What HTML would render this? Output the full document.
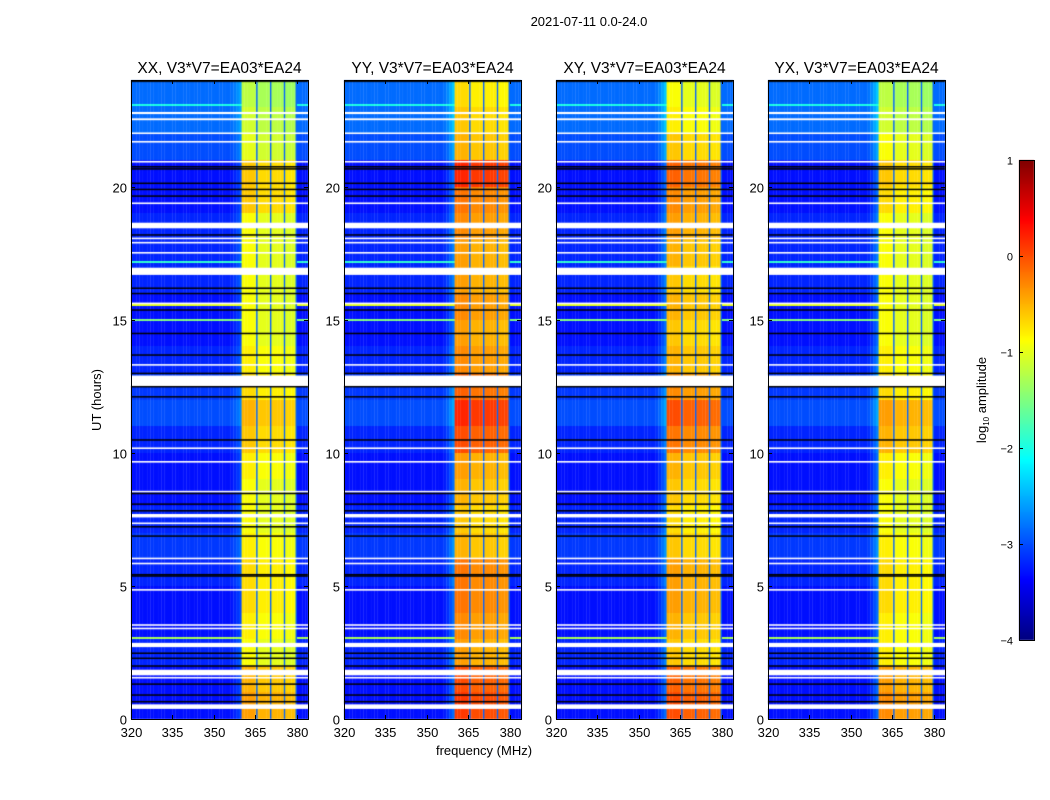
<!DOCTYPE html>
<html><head><meta charset="utf-8">
<style>
html,body{margin:0;padding:0;background:#fff;}
body{width:1050px;height:800px;position:relative;overflow:hidden;font-family:"Liberation Sans","DejaVu Sans",sans-serif;}
canvas{position:absolute;left:0;top:0;}
svg{position:absolute;left:0;top:0;}
</style></head>
<body>
<canvas id="heat" width="1050" height="800"></canvas>
<svg id="ov" width="1050" height="800"></svg>
<script>
// ---- data ----
const panelTitles = ["XX, V3*V7=EA03*EA24","YY, V3*V7=EA03*EA24","XY, V3*V7=EA03*EA24","YX, V3*V7=EA03*EA24"];
const xTicks = [320,335,350,365,380];
const yTicks = [0,5,10,15,20];
const cbTicks = [1,0,-1,-2,-3,-4];
// band log amplitude per hour (0..23) for each panel
const bandXX = [-0.5,-0.6,-1.0,-0.9,-0.8,-0.8,-0.9,-1.0,-1.0,-0.9,-0.7,-0.6,-0.8,-0.9,-1.0,-1.0,-1.0,-1.0,-1.0,-0.7,-0.7,-1.1,-1.2,-1.3];
const bandYY = [0.0,-0.1,-0.5,-0.4,-0.3,-0.3,-0.6,-0.7,-0.6,-0.5,-0.1,0.1,-0.2,-0.4,-0.5,-0.4,-0.5,-0.5,-0.4,-0.3,0.1,-0.6,-0.7,-0.8];
const bandXY = [-0.1,-0.2,-0.7,-0.6,-0.5,-0.5,-0.7,-0.8,-0.7,-0.6,-0.3,-0.1,-0.4,-0.6,-0.7,-0.6,-0.7,-0.6,-0.5,-0.4,-0.2,-0.7,-0.9,-1.0];
const bandYX = [-0.4,-0.5,-0.9,-0.9,-0.8,-0.8,-0.9,-1.0,-1.0,-0.9,-0.6,-0.5,-0.8,-0.9,-1.0,-1.0,-1.0,-1.0,-1.0,-0.8,-0.7,-1.0,-1.2,-1.3];
// background log amplitude per hour
const bgLevel = [-3.3,-3.3,-3.2,-3.3,-3.3,-3.2,-3.1,-3.2,-3.3,-3.3,-3.2,-3.0,-3.1,-3.2,-3.3,-3.3,-3.2,-3.2,-3.2,-3.3,-3.3,-3.0,-2.85,-2.85];
// frequency bins (MHz start) and offsets
const bandStart = 360, bandEnd = 380;
const dipFreqs = [365,370,375,379];
const subbandOffset = [0.1,0.1,0.1,0.1,0.1, 0,0,0,0,0, 0,0,0,0,0, -0.05,-0.05,-0.05,-0.05,-0.05];
const edgeGlow = [0.0,0.05,0.15,0.3,0.45]; // 355..359
// flagged (white) time ranges [from,to] hours
const whiteRanges = [[22.72,22.8],[22.49,22.56],[21.97,22.03],[21.65,21.71],[20.9,20.96],[19.34,19.4],[18.43,18.64],[18.02,18.08],[17.86,17.92],[17.48,17.54],[16.68,16.95],[15.58,15.64],[13.27,13.33],[12.7,12.76],[12.5,12.9],[10.14,10.2],[9.63,9.69],[8.51,8.57],[7.57,7.7],[7.32,7.38],[6.0,6.06],[5.81,5.87],[4.82,4.88],[3.5,3.56],[3.37,3.43],[2.7,2.86],[1.64,1.85],[1.52,1.58],[0.38,0.55]];
// black lines (hours)
const blackLines = [23.95,20.74,20.66,20.12,19.89,19.64,18.18,16.18,15.98,15.36,14.48,13.67,12.98,12.48,12.1,10.48,8.47,8.07,7.82,7.22,6.87,5.42,5.37,2.47,2.28,1.99,1.31,0.9,0.65];
// hot (RFI) rows in background [hour, value]
const hotRows = [[15.55,-1.0],[15.0,-1.5],[3.05,-1.3],[17.15,-1.9],[23.05,-2.0]];

const bandData = [bandXX,bandYY,bandXY,bandYX];
const panelX = [131,344,556,768];
const PW = 177, PT = 80, PB = 719;
const xs = (m,i)=> panelX[i] + (m-320)*PW/64;
const ys = h => PB - h*(PB-PT)/24;

function jet(v){
  let t=(v+4)/5; t=Math.max(0,Math.min(1,t));
  const c=x=>Math.round(255*Math.max(0,Math.min(1,x)));
  return `rgb(${c(1.5-Math.abs(4*t-3))},${c(1.5-Math.abs(4*t-2))},${c(1.5-Math.abs(4*t-1))})`;
}

const ctx = document.getElementById('heat').getContext('2d');
for(let p=0;p<4;p++){
  const band = bandData[p];
  for(let y=PT;y<PB;y++){
    const h = (PB-y-0.5)*24/(PB-PT);
    const hi = Math.min(23,Math.floor(h));
    const hot = hotRows.find(r=>Math.abs(r[0]-h)<0.04);
    for(let f=320;f<384;f++){
      let v;
      const x0 = xs(f,p), x1 = xs(f+1,p);
      if(f>=bandStart && f<bandEnd){
        v = band[hi] + subbandOffset[f-bandStart];
        ctx.fillStyle = jet(v);
        ctx.fillRect(x0,y,x1-x0+0.3,1);
        if(dipFreqs.includes(f)){
          ctx.fillStyle = jet(-2.9);
          ctx.fillRect(x0+(f===379?1.4:0.7),y,1.4,1);
        }
        continue;
      } else {
        v = bgLevel[hi];
        if(f>=355 && f<360) v += edgeGlow[f-355]*(p===0?0.6:1);
        if(hot) v = hot[1];
      }
      ctx.fillStyle = jet(v);
      ctx.fillRect(x0,y,x1-x0+0.3,1);
    }
  }
  ctx.fillStyle='#fff';
  whiteRanges.forEach(r=>{ const a=ys(r[1]), b=ys(r[0]); ctx.fillRect(panelX[p],a,PW,Math.max(1.5,b-a)); });
  ctx.fillStyle='#000';
  blackLines.forEach(h=>{ ctx.fillRect(panelX[p],ys(h)-0.75,PW,1.5); });
}
// colorbar
for(let y=160;y<640;y++){
  const v = 1 - (y-160+0.5)*5/480;
  ctx.fillStyle = jet(v);
  ctx.fillRect(1019,y,15,1);
}

// ---- overlay ----
const NS='http://www.w3.org/2000/svg';
const svg=document.getElementById('ov');
function mk(tag,attrs,text){const e=document.createElementNS(NS,tag);for(const k in attrs)e.setAttribute(k,attrs[k]);if(text!==undefined)e.textContent=text;svg.appendChild(e);return e;}

let e = mk('text',{x:589,y:26,'text-anchor':'middle','font-size':13},'2021-07-11 0.0-24.0');



for(let p=0;p<4;p++){
  const x0=panelX[p];
  e = mk('rect',{x:x0+0.5,y:PT+0.5,width:PW,height:PB-PT,fill:'none',stroke:'#000','stroke-width':1});
  
  
  e = mk('text',{x:x0+PW/2,y:73,'text-anchor':'middle','font-size':15.5},panelTitles[p]);
  
  
  xTicks.forEach(t=>{
    const x=Math.round(xs(t,p))+0.5;
    e = mk('line',{x1:x,x2:x,y1:PB,y2:PB-4,stroke:'#000'});
    
    
    e = mk('line',{x1:x,x2:x,y1:PT,y2:PT+4,stroke:'#000'});
    
    
    e = mk('text',{x:x,y:737,'text-anchor':'middle','font-size':13},String(t));
    
    
  });
  yTicks.forEach(t=>{
    const y=Math.round(ys(t))+0.5;
    e = mk('line',{x1:x0,x2:x0+4,y1:y,y2:y,stroke:'#000'});
    
    
    e = mk('line',{x1:x0+PW-4,x2:x0+PW,y1:y,y2:y,stroke:'#000'});
    
    
    e = mk('text',{x:x0-4,y:y+5,'text-anchor':'end','font-size':13},String(t));
    
    
  });
}
e = mk('text',{x:0,y:0,'text-anchor':'middle','font-size':13,transform:'translate(101,400) rotate(-90)'},'UT (hours)');


e = mk('text',{x:484,y:755,'text-anchor':'middle','font-size':13},'frequency (MHz)');



e = mk('rect',{x:1019.5,y:160.5,width:15,height:480,fill:'none',stroke:'#000'});


cbTicks.forEach(t=>{
  const y=Math.round(160+(1-t)*96)+0.5;
  e = mk('line',{x1:1019,x2:1023,y1:y,y2:y,stroke:'#000'});
  
  
  e = mk('text',{x:1013,y:y+4,'text-anchor':'end','font-size':11},t<0?'\u2212'+(-t):String(t));
  
  
});
e = mk('text',{x:0,y:0,'text-anchor':'middle','font-size':13,transform:'translate(986,400) rotate(-90)'});


e.innerHTML='log<tspan font-size="8" dy="3">10</tspan><tspan dy="-3"> amplitude</tspan>';
</script>
</body></html>
